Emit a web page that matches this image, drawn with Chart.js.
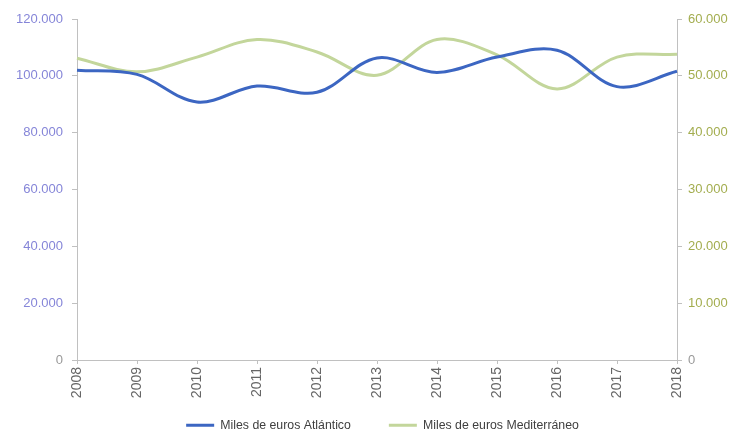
<!DOCTYPE html>
<html>
<head>
<meta charset="utf-8">
<script src="https://cdn.jsdelivr.net/npm/chart.js@4/dist/chart.umd.min.js"></script>
<style>
  html, body { margin: 0; padding: 0; background: #fff; }
  #wrap { width: 733px; height: 433px; }
</style>
</head>
<body>
<div id="wrap"><canvas id="chart" width="733" height="433"></canvas></div>
<script>
const years = ['2008', '2009', '2010', '2011', '2012', '2013', '2014', '2015', '2016', '2017', '2018'];
const atlantico = [102000, 100500, 90800, 96400, 94200, 106300, 101200, 106600, 109000, 96200, 101600];
const mediterraneo = [53100, 50700, 53300, 56400, 54200, 50100, 56400, 53700, 47700, 53300, 53800];
const leftTicks = [0, 20000, 40000, 60000, 80000, 100000, 120000];
const rightTicks = [0, 10000, 20000, 30000, 40000, 50000, 60000];

const BLUE = '#3c66c2';
const GREEN = '#c3d69b';
const AXIS = '#c0c0c0';

function fmt(v) {
  return String(v).replace(/\B(?=(\d{3})+(?!\d))/g, '.');
}

// nudge the legend to where Excel put it, right at the bottom
const legendShift = {
  id: 'legendShift',
  afterLayout(chart) {
    const lg = chart.legend;
    if (!lg) return;
    lg.left += 16; lg.right += 16;
    lg.top -= 19; lg.bottom -= 19;
  }
};

new Chart(document.getElementById('chart'), {
  type: 'line',
  data: {
    labels: years,
    datasets: [
      {
        label: 'Miles de euros Atlántico',
        data: atlantico,
        yAxisID: 'y',
        borderColor: BLUE,
        backgroundColor: BLUE,
        borderWidth: 3,
        pointRadius: 0,
        tension: 0.35
      },
      {
        label: 'Miles de euros Mediterráneo',
        data: mediterraneo,
        yAxisID: 'y1',
        borderColor: GREEN,
        backgroundColor: GREEN,
        borderWidth: 3,
        pointRadius: 0,
        tension: 0.35
      }
    ]
  },
  options: {
    responsive: false,
    animation: false,
    layout: { padding: { top: 19, left: 0, right: 0, bottom: -27.3 } },
    plugins: {
      tooltip: { enabled: false },
      legend: {
        position: 'bottom',
        labels: {
          boxWidth: 28,
          boxHeight: 3,
          padding: 38,
          color: '#404040',
          font: { family: 'Liberation Sans', size: 12.3 },
          generateLabels(chart) {
            return chart.data.datasets.map((ds, i) => ({
              text: ds.label,
              fillStyle: ds.borderColor,
              strokeStyle: ds.borderColor,
              lineWidth: 0,
              fontColor: '#404040',
              hidden: false,
              datasetIndex: i
            }));
          }
        }
      }
    },
    scales: {
      x: {
        offset: false,
        grid: { display: true, drawOnChartArea: false, drawTicks: true, tickLength: 4, color: AXIS },
        border: { display: true, color: AXIS },
        ticks: {
          minRotation: 90, maxRotation: 90, padding: 3,
          color: '#666',
          font: { family: 'Liberation Sans', size: 14 }
        },
        afterFit(scale) { scale.height = 40; }
      },
      y: {
        position: 'left',
        min: 0, max: 120000,
        afterBuildTicks(scale) { scale.ticks = leftTicks.map(v => ({ value: v })); },
        grid: { drawOnChartArea: false, drawTicks: true, tickLength: 5, color: AXIS },
        border: { display: true, color: AXIS },
        ticks: {
          padding: 9,
          color: ctx => ctx.tick.value === 0 ? '#999' : '#8585d8',
          font: { family: 'Liberation Sans', size: 13 },
          callback: v => fmt(v)
        },
        afterFit(scale) { scale.width = 77; }
      },
      y1: {
        position: 'right',
        min: 0, max: 60000,
        afterBuildTicks(scale) { scale.ticks = rightTicks.map(v => ({ value: v })); },
        grid: { drawOnChartArea: false, drawTicks: true, tickLength: 5, color: AXIS },
        border: { display: true, color: AXIS },
        ticks: {
          padding: 6,
          color: ctx => ctx.tick.value === 0 ? '#999' : '#a3ad4f',
          font: { family: 'Liberation Sans', size: 13 },
          callback: v => fmt(v)
        },
        afterFit(scale) { scale.width = 56; }
      }
    }
  },
  plugins: [legendShift]
});
</script>
</body>
</html>
